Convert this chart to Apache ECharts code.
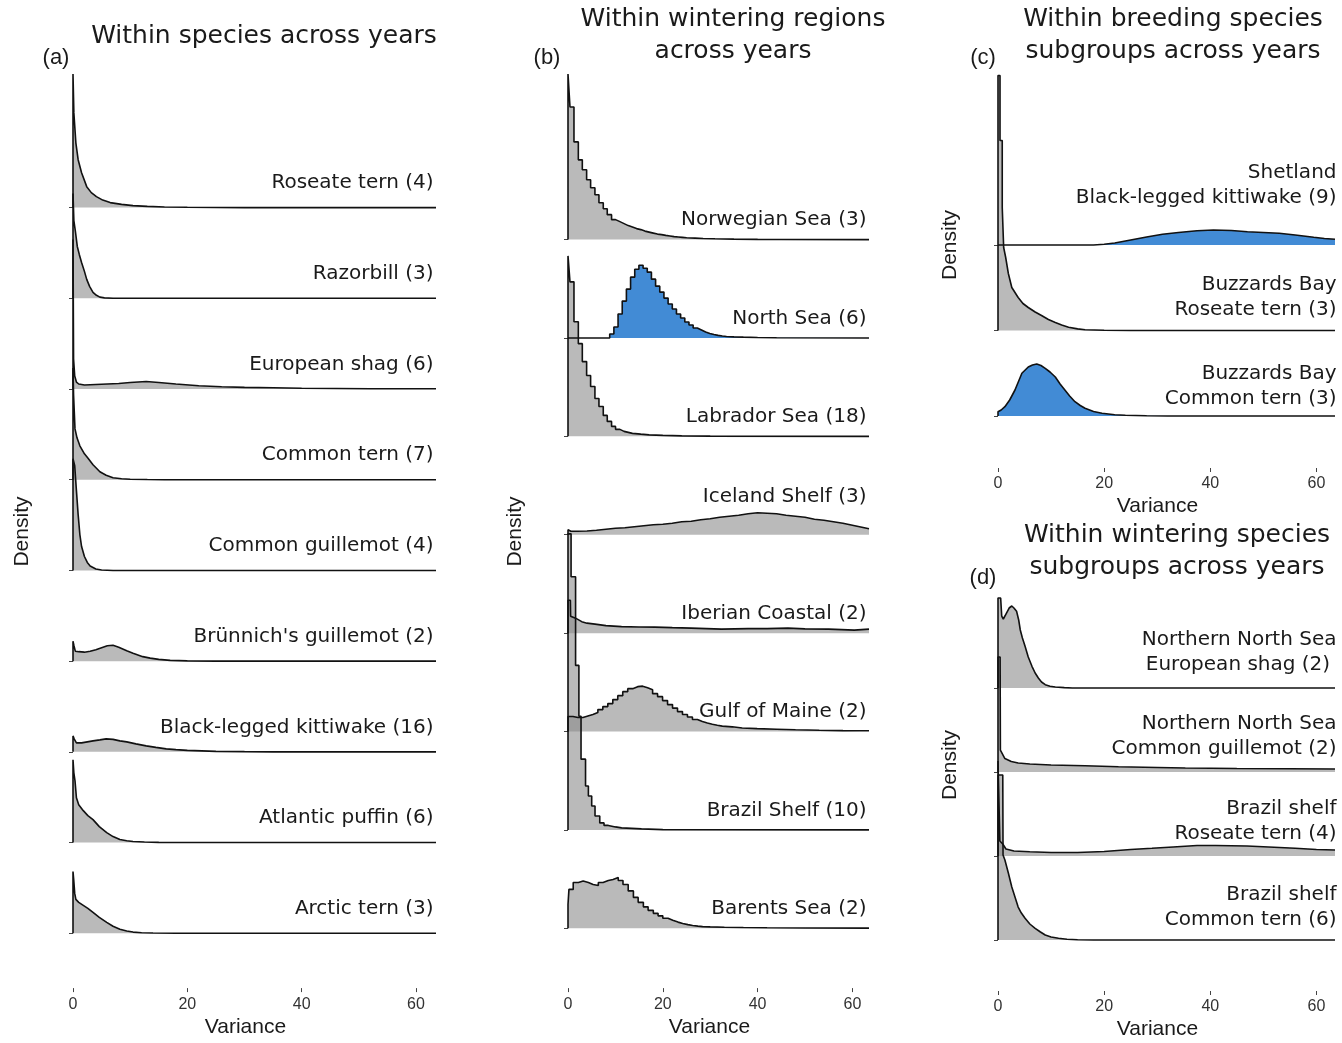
<!DOCTYPE html>
<html>
<head>
<meta charset="utf-8">
<script src="https://cdn.jsdelivr.net/npm/echarts@6/dist/echarts.min.js"></script>
<style>
  html, body { margin: 0; padding: 0; background: #fff; }
  #chart { width: 1342px; height: 1043px; }
</style>
</head>
<body>
<div id="chart"></div>
<script>
// Posterior variance on x; density on y in scaled units (ridges share one scale per panel).
const VAR_MAX = 63.5;
const varianceTicks = [0, 20, 40, 60];

// ---- (a) Within species across years ----
const roseateTern = [[0,0],[0,134],[0.15,95],[0.5,65],[0.9,48],[1.5,35],[2.4,21],[3.2,15],[4.1,11],[5.2,7.5],[6.5,5],[8.5,3.2],[10.5,2],[13,1.2],[16,0.6],[20,0.3],[25,0.1],[30,0],[63.5,0]];
const razorbill = [[0,0],[0,105],[0.15,78],[0.4,68],[0.75,52],[1.1,44],[1.5,36],[2,27],[2.4,19],[2.9,12],[3.5,6],[4.1,3],[4.7,1.2],[5.5,0.4],[7,0],[63.5,0]];
const europeanShag = [[0,0],[0,150],[0.1,30],[0.3,13],[0.6,7],[1,5],[2,4],[4,4.5],[6,5],[8,5.5],[10,6.5],[12.8,7.5],[15,6.5],[18,5],[22,3.2],[26,2.2],[30,1.6],[35,1.2],[40,0.8],[46,0.5],[52,0.3],[63.5,0.2]];
const commonTern = [[0,0],[0,112],[0.1,85],[0.35,51],[0.7,42],[1.2,34],[2,26],[2.7,21],[3.5,15],[4.7,8],[5.8,4.5],[7,2],[8.5,1],[10,0.5],[13,0.2],[16,0],[63.5,0]];
const commonGuillemot = [[0,0],[0,112],[0.3,105],[0.6,80],[0.9,56],[1.2,36],[1.5,24],[2,14],[2.5,8],[3,4.5],[4,1.5],[5,0.5],[7,0],[63.5,0]];
const brunnichsGuillemot = [[0,0],[0,20],[0.15,16],[0.4,10],[1,9.5],[2,9],[3,10],[4,11.5],[5,13.5],[6,15.5],[7,16],[8,14],[9.4,10.5],[10.5,8],[12.2,4.5],[13.5,3],[15,1.8],[17,0.8],[20,0.3],[25,0],[63.5,0]];
const kittiwake = [[0,0],[0,16],[0.2,13],[0.6,9],[1.5,9],[2.5,10],[3.5,11],[4.7,12],[5.8,13],[7,12.5],[8.2,11],[9.4,10],[11,8],[12.8,6],[14.5,4.5],[16.3,3],[18,2.2],[20,1.5],[22.5,1],[25,0.5],[30,0.2],[35,0],[63.5,0]];
const atlanticPuffin = [[0,0],[0,83],[0.15,70],[0.35,62],[0.6,45],[1,38],[1.8,32],[2.6,27],[3.5,23],[4.6,16],[5.9,10],[7,6],[8.2,3],[9.4,1.8],[10.5,1],[12.5,0.5],[15,0.2],[18,0],[63.5,0]];
const arcticTern = [[0,0],[0,62],[0.15,52],[0.3,40],[0.5,34],[1,31],[1.8,28],[2.6,25],[3.5,21],[4.6,16],[5.9,11],[7,7],[8.2,4],[9.4,2.2],[10.5,1.2],[12,0.6],[14,0.3],[18,0],[63.5,0]];

// ---- (b) Within wintering regions across years (binned: [bin start, height]) ----
const norwegianSea = [[0,0],[0,166],[0.42,133],[1.26,98],[2.18,80],[3.02,70],[3.93,60],[4.77,52],[5.68,45],[6.53,37],[7.44,31],[8.28,25],[9.19,20],[10.03,18],[10.95,16],[11.83,14],[12.71,12.5],[13.59,11],[14.47,10],[15.35,8.5],[16.23,7.5],[17.11,6.5],[17.99,5.5],[18.87,5],[19.75,4.2],[20.63,3.6],[21.51,3],[22.39,2.6],[23.27,2.2],[24.15,1.8],[25.03,1.5],[26.8,1.1],[28.5,0.8],[31,0.5],[35,0.25],[40,0.1],[45,0],[63.5,0]];
const northSea = [[0,0],[8.8,4],[9.68,11],[10.56,24],[11.44,37],[12.32,49],[13.2,61],[14.08,69],[14.96,73],[15.84,70],[16.72,66],[17.6,59],[18.48,52],[19.36,46],[20.24,40],[21.12,34],[22,29],[22.88,24],[23.76,20],[24.64,16],[25.52,13],[26.4,10],[27.28,8],[28.16,6],[29.04,4.5],[29.92,3.5],[30.8,2.6],[31.68,2],[32.56,1.5],[33.44,1.1],[35,0.8],[37,0.5],[40,0.2],[44,0],[63.5,0]];
const labradorSea = [[0,0],[0,181],[0.42,155],[1.26,115],[2.18,93],[3.02,75],[3.93,61],[4.77,50],[5.68,38],[6.53,30],[7.44,21],[8.28,15],[9.19,10],[10.03,7],[10.95,5],[11.83,4],[12.71,3],[13.59,2.2],[15.35,1.5],[17.11,1],[20,0.5],[24,0.2],[30,0],[63.5,0]];
const icelandShelf = [[0,0],[0,5],[0.4,5],[0.6,3.5],[2,3.5],[4,3.8],[6,4.5],[8,5.5],[10,6.5],[12,7],[14,8],[16,9],[18,10],[20,10.5],[22,11.5],[24,13],[26,13.5],[28,15],[30,16],[32,17.5],[34,18.5],[36,19.5],[38,21],[40,22],[42,21.5],[44,21],[46,19.5],[48,18.5],[50,17.5],[52,15.5],[54,14.5],[56,13],[58,11.5],[60,9.5],[62,7.5],[63.5,6]];
const iberianCoastal = [[0,0],[0,33],[0.5,33],[0.55,17],[1.6,15],[2.9,11.5],[4,10],[5.7,9],[8,7.5],[11.3,6.5],[15,6.2],[18.3,6],[22,5.5],[26,5],[32.4,4],[38,4.5],[42,4.5],[46.4,5],[50,4.3],[55,4],[60.4,3],[63.5,4]];
const gulfOfMaine = [[0,0],[0,15],[1.05,14],[2.1,14],[3.15,15.5],[4.2,17],[5.25,19],[6.3,22],[7.35,25],[8.4,28],[9.45,32],[10.5,36],[11.55,40],[12.6,43],[13.65,45],[14.7,45.5],[15.75,44],[16.8,42],[17.85,38],[18.9,35],[19.95,31],[21,27],[22.05,23.5],[23.1,20],[24.15,17],[25.2,14.5],[26.25,12],[27.3,10],[28.35,8.5],[29.4,7.3],[30.45,6.3],[31.5,5.4],[32.55,4.7],[34.65,3.6],[36.75,2.9],[39.9,2.3],[44,1.7],[48,1.2],[53,0.9],[58,0.7],[63.5,0.7]];
const brazilShelf = [[0,0],[0,297],[0.65,254],[1.6,165],[2.3,114],[2.75,71],[3.7,44],[4.3,34],[5.0,24],[5.7,14],[6.7,7],[7.6,4.5],[8.5,3],[10,2],[11.3,1],[15.5,0.3],[20,0],[63.5,0]];
const barentsSea = [[0,0],[0,24],[0.2,39],[1.1,46],[2.2,47.5],[3.2,46],[4.3,44],[5.3,43],[6.4,46],[7.4,48],[8.5,49],[9.5,51],[10.6,48],[11.6,44],[12.7,37.5],[13.8,31],[14.8,26],[15.9,21.5],[16.9,18],[18,15],[19,12.5],[20,10],[21.1,8],[22.1,6.2],[23.2,4.8],[24.2,3.7],[25.3,2.8],[26.3,2.2],[27.4,1.7],[28.4,1.4],[30,1.1],[33,0.8],[37,0.5],[42,0.3],[50,0.15],[63.5,0.15]];

// ---- (c) Within breeding species subgroups across years ----
const shetlandKittiwake = [[0,0],[18,0],[20,0.7],[22,2],[25,5],[28,8],[31,10.7],[34,12.5],[37.5,14.3],[40.6,15],[44,14.5],[47,13.3],[50,12.5],[53,11.7],[56,10],[59.5,7.7],[61.5,6.5],[63.5,5.7]];
const buzzardsRoseateTern = [[0,0],[0,255],[0.38,255],[0.38,190],[0.8,190],[0.8,123],[1.07,123],[1.07,83],[1.45,73],[1.95,57],[2.6,43],[3.8,33],[4.7,27],[5.7,23],[7,18.5],[8.2,15],[9.5,11],[10.8,8],[12,5.5],[13.3,3.3],[15,1.6],[16.4,0.7],[20,0.2],[25,0],[63.5,0]];
const buzzardsCommonTern = [[0,0],[0,4.3],[0.6,6],[1.3,9.3],[2.2,16],[3.2,26],[4.5,42.7],[5.7,49],[6.5,51],[7.3,52],[8.1,50.5],[8.9,47.7],[9.8,44],[10.8,39],[11.7,32],[12.6,26],[13.5,20],[14.5,14.3],[15.5,10.5],[16.4,7.7],[18,4.5],[19.6,2.7],[22,1.3],[24,0.7],[28,0.2],[32,0],[63.5,0]];

// ---- (d) Within wintering species subgroups across years ----
const nnsEuropeanShag = [[0,0],[0,90],[0.5,90],[0.7,72],[1,69],[1.3,72],[1.6,75],[2.1,80],[2.6,82],[3,80],[3.5,76.7],[3.9,68],[4.2,58],[4.6,50],[5.1,41.7],[5.7,31],[6.4,21.7],[7,15],[7.6,10],[8.2,6],[8.9,3.3],[9.8,1.8],[10.8,1],[12.5,0.4],[14,0],[63.5,0]];
const nnsCommonGuillemot = [[0,0],[0,115],[0.4,115],[0.45,22],[0.6,20],[1.3,13.5],[2.5,10.5],[3.8,9],[6,8],[10,7],[16.4,6.2],[22.7,5.2],[30,4.5],[35.3,4],[45,3.5],[55,3.2],[63.5,3]];
const brazilRoseateTern = [[0,0],[0,95],[0.3,95],[0.35,15],[0.9,12],[1.5,7],[3,5],[6,4.3],[10,3.5],[15,3.5],[20,4.5],[25,6.5],[29,7.7],[33,9],[37.5,10.5],[41,10.5],[46.9,10],[51,9],[56,7.7],[60,6.5],[63.5,6]];
const brazilCommonTern = [[0,0],[0,165],[0.9,165],[0.95,85],[1.3,80],[1.95,67],[2.6,53],[3.2,43],[3.8,33],[4.4,27],[5.1,21.7],[6,16],[7,11.7],[8,8],[8.9,5],[10,3],[11.4,1.7],[13,0.8],[15,0.3],[18,0],[63.5,0]];

const GREY = 'rgba(140,140,140,0.6)';
const BLUE = '#428bd5';
const INK = '#1a1a1a';

// Panel layout: ridges listed top to bottom; lower ridges paint over upper ones.
const panels = [
  {
    title: 'Within species across years', titleX: 264, titleY: 20,
    tag: '(a)', tagX: 56, tagY: 45,
    grid: { left: 73, top: 75, width: 363, height: 916 },
    pad: 55, spacing: 91, densityGap: 40, labelDx: -2, lineHeight: 24,
    ridges: [
      { label: 'Roseate tern (4)', data: roseateTern, dy: 12 },
      { label: 'Razorbill (3)', data: razorbill, dy: 12 },
      { label: 'European shag (6)', data: europeanShag, dy: 12 },
      { label: 'Common tern (7)', data: commonTern, dy: 12 },
      { label: 'Common guillemot (4)', data: commonGuillemot, dy: 12 },
      { label: "Brünnich's guillemot (2)", data: brunnichsGuillemot, dy: 12 },
      { label: 'Black-legged kittiwake (16)', data: kittiwake, dy: 12 },
      { label: 'Atlantic puffin (6)', data: atlanticPuffin, dy: 12 },
      { label: 'Arctic tern (3)', data: arcticTern, dy: 12 }
    ]
  },
  {
    title: 'Within wintering regions\nacross years', titleX: 733, titleY: 3,
    tag: '(b)', tagX: 547, tagY: 45,
    grid: { left: 568, top: 75, width: 301, height: 916 },
    pad: 60, spacing: 98.7, densityGap: 42, labelDx: -2, lineHeight: 24,
    ridges: [
      { label: 'Norwegian Sea (3)', data: norwegianSea, dy: 7, binned: true },
      { label: 'North Sea (6)', data: northSea, dy: 7, binned: true, blue: true },
      { label: 'Labrador Sea (18)', data: labradorSea, dy: 7, binned: true },
      { label: 'Iceland Shelf (3)', data: icelandShelf, dy: 25 },
      { label: 'Iberian Coastal (2)', data: iberianCoastal, dy: 7 },
      { label: 'Gulf of Maine (2)', data: gulfOfMaine, dy: 7, binned: true },
      { label: 'Brazil Shelf (10)', data: brazilShelf, dy: 7, binned: true },
      { label: 'Barents Sea (2)', data: barentsSea, dy: 7, binned: true }
    ]
  },
  {
    title: 'Within breeding species\nsubgroups across years', titleX: 1173, titleY: 3,
    tag: '(c)', tagX: 983, tagY: 45,
    grid: { left: 998, top: 22, width: 337, height: 446 },
    pad: 52, spacing: 85.5, densityGap: 37, labelDx: 2, lineHeight: 25,
    ridges: [
      { label: 'Shetland\nBlack-legged kittiwake (9)', data: shetlandKittiwake, dy: 34, blue: true },
      { label: 'Buzzards Bay\nRoseate tern (3)', data: buzzardsRoseateTern, dy: 8 },
      { label: 'Buzzards Bay\nCommon tern (3)', data: buzzardsCommonTern, dy: 4, blue: true }
    ]
  },
  {
    title: 'Within wintering species\nsubgroups across years', titleX: 1177, titleY: 519,
    tag: '(d)', tagX: 983, tagY: 565,
    grid: { left: 998, top: 539, width: 337, height: 452 },
    pad: 51, spacing: 84, densityGap: 37, labelDx: 2, lineHeight: 25,
    ridges: [
      { label: 'Northern North Sea\nEuropean shag (2) ', data: nnsEuropeanShag, dy: 10 },
      { label: 'Northern North Sea\nCommon guillemot (2)', data: nnsCommonGuillemot, dy: 10 },
      { label: 'Brazil shelf\nRoseate tern (4)', data: brazilRoseateTern, dy: 9 },
      { label: 'Brazil shelf\nCommon tern (6)', data: brazilCommonTern, dy: 7 }
    ]
  }
];

const option = {
  animation: false,
  backgroundColor: '#fff',
  title: [], grid: [], xAxis: [], yAxis: [], series: []
};

panels.forEach((p, pi) => {
  const n = p.ridges.length;
  const bases = p.ridges.map((r, i) => p.pad + p.spacing * (n - 1 - i));

  option.title.push({
    text: p.title, left: p.titleX, top: p.titleY, textAlign: 'center', padding: 0,
    textStyle: { fontFamily: 'DejaVu Sans', fontSize: 25, fontWeight: 'normal', color: INK, lineHeight: 32 }
  });
  option.title.push({
    text: p.tag, left: p.tagX, top: p.tagY, textAlign: 'center', padding: 0,
    textStyle: { fontFamily: 'Liberation Sans', fontSize: 22, fontWeight: 'normal', color: INK, lineHeight: 26 }
  });

  option.grid.push(Object.assign({ containLabel: false }, p.grid));

  option.xAxis.push({
    type: 'value', gridIndex: pi, min: 0, max: VAR_MAX,
    name: 'Variance', nameLocation: 'middle', nameGap: 28,
    nameTextStyle: { fontFamily: 'Liberation Sans', fontSize: 21, color: INK, padding: [0, 18, 0, 0] },
    axisLine: { show: false },
    axisTick: { show: true, customValues: varianceTicks, length: 4, lineStyle: { color: '#444', width: 1 } },
    axisLabel: { customValues: varianceTicks, margin: 8, fontFamily: 'Liberation Sans', fontSize: 16, color: '#333' },
    splitLine: { show: false }
  });

  option.yAxis.push({
    type: 'value', gridIndex: pi, min: 0, max: p.grid.height,
    name: 'Density', nameLocation: 'middle', nameGap: p.densityGap,
    nameTextStyle: { fontFamily: 'Liberation Sans', fontSize: 21, color: INK },
    axisLine: { show: false },
    axisTick: { show: true, customValues: bases, length: 4, lineStyle: { color: '#444', width: 1 } },
    axisLabel: { show: false },
    splitLine: { show: false }
  });

  p.ridges.forEach((r, i) => {
    const base = bases[i];
    option.series.push({
      type: 'line', name: r.label.replace('\n', ' '),
      xAxisIndex: pi, yAxisIndex: pi,
      data: r.data.map(d => [d[0], base + d[1]]),
      step: r.binned ? 'end' : false,
      symbol: 'none', showSymbol: false, silent: true, clip: false,
      lineStyle: { color: '#111', width: 1.6 },
      areaStyle: { color: r.blue ? BLUE : GREY, origin: base, opacity: 1 },
      markPoint: {
        symbol: 'rect', symbolSize: 1, silent: true, animation: false,
        itemStyle: { color: 'rgba(0,0,0,0)' },
        data: [{ coord: [VAR_MAX, base] }],
        label: {
          show: true, formatter: r.label, position: [p.labelDx, -r.dy],
          align: 'right', verticalAlign: 'bottom',
          fontFamily: 'DejaVu Sans', fontSize: 20, lineHeight: p.lineHeight, color: INK
        }
      }
    });
  });
});

const chart = echarts.init(document.getElementById('chart'), null, { renderer: 'canvas' });
chart.setOption(option);
</script>
</body>
</html>
